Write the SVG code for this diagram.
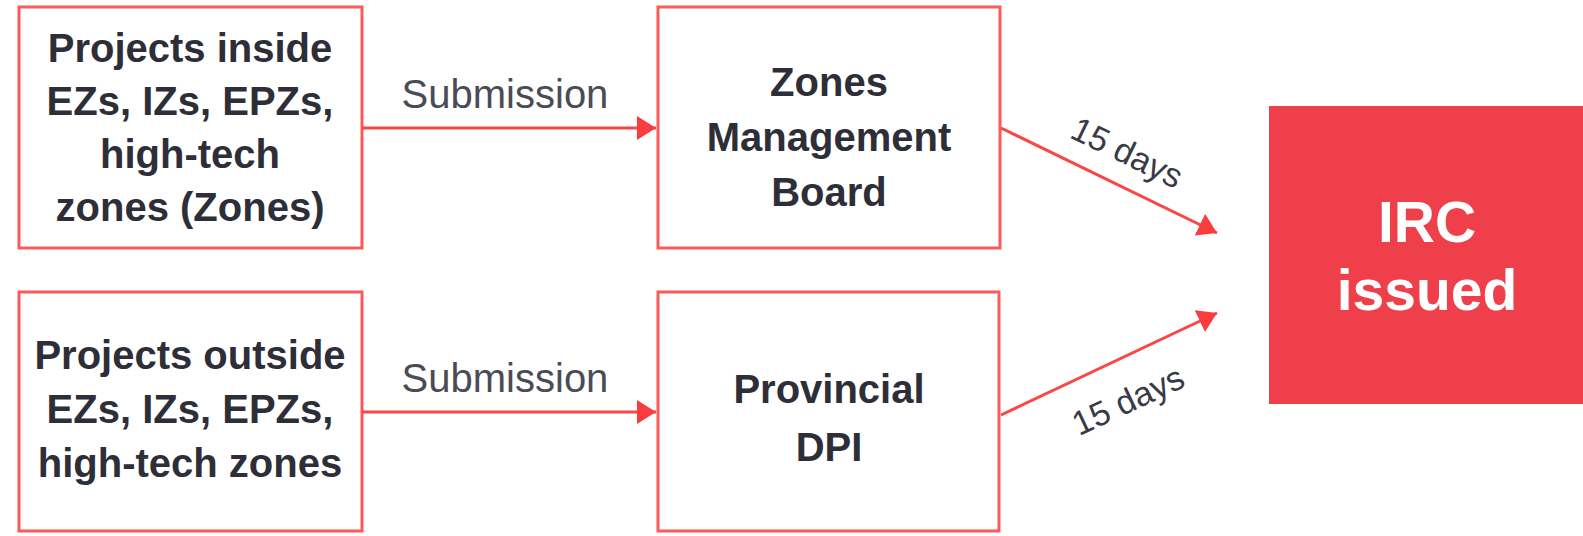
<svg xmlns="http://www.w3.org/2000/svg" width="1583" height="536" viewBox="0 0 1583 536">
<style>
.box{fill:#ffffff;stroke:#fc5a5a;stroke-width:3}
.t{font-family:"Liberation Sans",Arial,sans-serif;font-weight:bold;font-size:40px;fill:#2e2e38;text-anchor:middle}
.w{font-family:"Liberation Sans",Arial,sans-serif;font-weight:bold;font-size:57px;fill:#ffffff;text-anchor:middle}
.lbl{font-family:"Liberation Sans",Arial,sans-serif;font-size:40px;fill:#4b4b57;text-anchor:middle}
.day{font-family:"Liberation Sans",Arial,sans-serif;font-size:34px;fill:#3a3a44;text-anchor:middle}
.c{fill:none;stroke:#fb4646;stroke-width:3}
</style>
<defs>
<marker id="ah" markerUnits="userSpaceOnUse" markerWidth="20" markerHeight="24" refX="19" refY="12" orient="auto" viewBox="0 0 20 24">
<path d="M0,0 L19,12 L0,24 z" fill="#fb3c3c"/>
</marker>
</defs>
<rect width="1583" height="536" fill="#ffffff"/>
<g id="inside">
<rect class="box" x="19" y="7" width="343" height="241"/>
<text class="t" x="190" y="62">Projects inside</text>
<text class="t" x="190" y="115">EZs, IZs, EPZs,</text>
<text class="t" x="190" y="168">high-tech</text>
<text class="t" x="190" y="221">zones (Zones)</text>
</g>
<g id="outside">
<rect class="box" x="19" y="292" width="343" height="239"/>
<text class="t" x="190" y="369">Projects outside</text>
<text class="t" x="190" y="423">EZs, IZs, EPZs,</text>
<text class="t" x="190" y="477">high-tech zones</text>
</g>
<g id="zmb">
<rect class="box" x="658" y="7" width="342" height="241"/>
<text class="t" x="829" y="96">Zones</text>
<text class="t" x="829" y="151">Management</text>
<text class="t" x="829" y="206">Board</text>
</g>
<g id="dpi">
<rect class="box" x="658" y="292" width="341" height="239"/>
<text class="t" x="829" y="403">Provincial</text>
<text class="t" x="829" y="461">DPI</text>
</g>
<g id="irc">
<rect x="1269" y="106" width="320" height="298" fill="#ef3f4b"/>
<text class="w" x="1427" y="242">IRC</text>
<text class="w" x="1427" y="310">issued</text>
</g>
<g id="connectors">
<line class="c" x1="362" y1="128" x2="656" y2="128" marker-end="url(#ah)"/>
<line class="c" x1="362" y1="412" x2="656" y2="412" marker-end="url(#ah)"/>
<line class="c" x1="1001" y1="128" x2="1217" y2="233" marker-end="url(#ah)"/>
<line class="c" x1="1001" y1="415" x2="1217" y2="313" marker-end="url(#ah)"/>
<text class="lbl" x="505" y="108">Submission</text>
<text class="lbl" x="505" y="392">Submission</text>
<text class="day" transform="translate(1122,163) rotate(26)">15 days</text>
<text class="day" transform="translate(1133,411) rotate(-25)">15 days</text>
</g>
</svg>
